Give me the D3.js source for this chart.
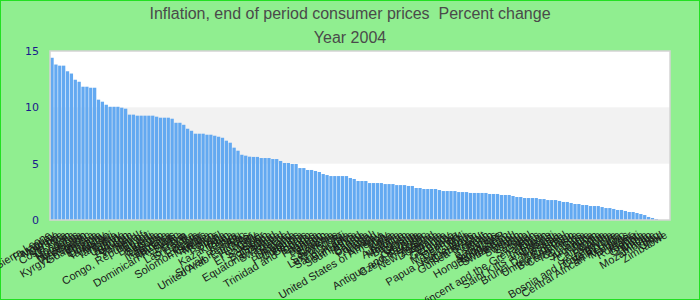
<!DOCTYPE html>
<html>
<head>
<meta charset="utf-8">
<script src="https://cdn.jsdelivr.net/npm/d3@7"></script>
<style>
  body { margin: 0; background: #fff; }
  svg { display: block; }
</style>
</head>
<body>
<div id="chart"></div>
<script>
const TITLE = 'Inflation, end of period consumer prices  Percent change';
const SUBTITLE = 'Year 2004';

const countries = [
  'Sierra Leone', 'Paraguay', 'Moldova', 'Ukraine', 'Costa Rica', 'Iran', 'Mongolia', 'Honduras',
  'Nicaragua', 'Azerbaijan', 'Kyrgyz Republic', 'Guatemala', 'Russia', 'Ethiopia', 'Uruguay', 'Tajikistan',
  'Malawi', 'Tanzania', 'Turkey', 'Uganda', 'Bhutan', 'Pakistan', 'Vanuatu', 'Nepal',
  'Congo, Republic of', 'Egypt', 'Burundi', 'Algeria', 'Georgia', 'Lesotho', 'Indonesia', 'Jamaica',
  'Mauritius', 'Dominican Republic', 'Serbia', 'Latvia', 'Lao P.D.R.', 'Sri Lanka', 'Belize', 'Ecuador',
  'Solomon Islands', 'Namibia', 'Mexico', 'Bolivia', 'Brazil', 'India', 'Kazakhstan', 'Tonga',
  'Kenya', 'Peru', 'Slovak Republic', 'United Arab Emirates', 'Qatar', 'Hungary', 'Chile', 'El Salvador',
  'Spain', 'Botswana', 'Thailand', 'Equatorial Guinea', 'Swaziland', 'Greece', 'Iceland', 'Lithuania',
  'Philippines', 'Colombia', 'Belarus', 'Trinidad and Tobago', 'Cyprus', 'Panama', 'Bahrain', 'Jordan',
  'Estonia', 'Slovenia', 'Seychelles', 'Luxembourg', 'Fiji', 'Saudi Arabia', 'Barbados', 'South Africa',
  'Poland', 'Samoa', 'Canada', 'Portugal', 'Ireland', 'Norway', 'United States of America', 'Italy',
  'Malta', 'Korea', 'Australia', 'Morocco', 'Belgium', 'Tunisia', 'Croatia', 'Grenada',
  'Antigua and Barbuda', 'Czech Republic', 'Austria', 'New Zealand', 'Dominica', 'Albania', 'France', 'Germany',
  'Guyana', 'Macedonia', 'Denmark', 'Mali', 'Papua New Guinea', 'Netherlands', 'Cameroon', 'Guinea-Bissau',
  'Kuwait', 'Oman', 'Benin', 'Bahamas', 'Singapore', 'Hong Kong SAR', 'Bangladesh', 'Switzerland',
  'Finland', 'Sweden', 'Taiwan', 'Togo', 'Senegal', 'Gabon', 'Saint Vincent and the Grenadines', 'Libya',
  'Lebanon', 'Saint Kitts and Nevis', 'Djibouti', 'Malaysia', 'Brunei Darussalam', 'Israel', 'United Kingdom', 'Burkina Faso',
  'Cape Verde', 'Comoros', 'Syria', 'Suriname', 'Argentina', 'Japan', 'Cambodia', 'China',
  'Rwanda', 'Bosnia and Herzegovina', "Cote d'Ivoire", 'Saint Lucia', 'Central African Republic', 'Maldives', 'Niger', 'Romania',
  'Kiribati', 'Gambia', 'Zambia', 'Macao', 'Mozambique', 'Iraq', 'Chad', 'Zimbabwe'
];

const inflation = [
  14.4, 13.8, 13.7, 13.7, 13.2, 13.0, 12.45, 12.27,
  11.83, 11.83, 11.74, 11.74, 10.68, 10.5, 10.23, 10.05,
  10.05, 10.05, 9.97, 9.88, 9.35, 9.35, 9.26, 9.26,
  9.26, 9.26, 9.26, 9.17, 9.08, 9.08, 9.08, 8.99,
  8.63, 8.63, 8.45, 8.1, 7.92, 7.66, 7.66, 7.66,
  7.57, 7.57, 7.48, 7.39, 7.3, 7.04, 6.86, 6.42,
  6.15, 5.79, 5.71, 5.62, 5.6, 5.6, 5.5, 5.5,
  5.5, 5.41, 5.41, 5.24, 5.06, 5.06, 4.97, 4.97,
  4.61, 4.61, 4.44, 4.44, 4.35, 4.26, 4.08, 3.99,
  3.9, 3.9, 3.9, 3.9, 3.9, 3.73, 3.64, 3.46,
  3.46, 3.46, 3.28, 3.28, 3.28, 3.28, 3.19, 3.19,
  3.19, 3.1, 3.1, 3.1, 3.02, 3.02, 2.84, 2.84,
  2.75, 2.75, 2.75, 2.75, 2.66, 2.57, 2.57, 2.57,
  2.57, 2.48, 2.48, 2.48, 2.4, 2.4, 2.4, 2.4,
  2.4, 2.31, 2.31, 2.31, 2.22, 2.22, 2.22, 2.13,
  2.04, 2.04, 1.95, 1.95, 1.95, 1.95, 1.86, 1.86,
  1.77, 1.77, 1.77, 1.69, 1.6, 1.6, 1.51, 1.42,
  1.42, 1.33, 1.33, 1.24, 1.24, 1.24, 1.15, 1.06,
  1.06, 0.98, 0.89, 0.89, 0.8, 0.71, 0.71, 0.62,
  0.53, 0.44, 0.27, 0.18, 0.09, -0.5, -1.8, -5.3
];

const yTicks = [0, 5, 10, 15];

const WIDTH = 700, HEIGHT = 300;
var margin = {top: 51, right: 30, bottom: 80, left: 50};
const PLOT_W = WIDTH - margin.left - margin.right,
  PLOT_H = HEIGHT - margin.top - margin.bottom;

const data = inflation.map((v, i) => ({name: countries[i], value: v}));

const svg = d3.select('#chart')
  .append('svg')
    .attr('width', WIDTH)
    .attr('height', HEIGHT)
    .style('font-family', '"Liberation Sans", Arial, sans-serif');

svg.append('rect')
  .attr('x', 0.5).attr('y', 0.5)
  .attr('width', WIDTH - 1).attr('height', HEIGHT - 1)
  .attr('fill', '#90ee90')
  .attr('stroke', '#22e022')
  .attr('stroke-width', 1);

svg.append('text')
  .attr('x', WIDTH / 2).attr('y', 19)
  .attr('text-anchor', 'middle')
  .attr('font-size', 16)
  .attr('fill', '#4a4a4a')
  .style('white-space', 'pre')
  .text(TITLE);

svg.append('text')
  .attr('x', WIDTH / 2).attr('y', 43)
  .attr('text-anchor', 'middle')
  .attr('font-size', 16)
  .attr('fill', '#4a4a4a')
  .text(SUBTITLE);

const x = d3.scaleBand()
  .domain(data.map(d => d.name))
  .range([0, PLOT_W])
  .paddingInner(0.15)
  .paddingOuter(0.1);

const y = d3.scaleLinear()
  .domain([0, 15])
  .range([PLOT_H, 0]);

const g = svg.append('g')
  .attr('transform', `translate(${margin.left}, ${margin.top})`);

// background bands
g.append('rect')
  .attr('x', 0).attr('y', 0)
  .attr('width', PLOT_W).attr('height', PLOT_H)
  .attr('fill', '#ffffff');

g.append('rect')
  .attr('x', 0).attr('y', y(10))
  .attr('width', PLOT_W).attr('height', y(5) - y(10))
  .attr('fill', '#f2f2f2');

g.selectAll('rect.bar')
  .data(data)
  .join('rect')
    .attr('class', 'bar')
    .attr('x', d => x(d.name))
    .attr('y', d => y(Math.max(0, d.value)))
    .attr('width', x.bandwidth())
    .attr('height', d => y(0) - y(Math.max(0, d.value)))
    .attr('fill', '#63a9f1');

g.append('rect')
  .attr('x', 0).attr('y', 0)
  .attr('width', PLOT_W).attr('height', PLOT_H)
  .attr('fill', 'none')
  .attr('stroke', '#d4d4d4')
  .attr('stroke-width', 1.5);

const yAxis = g.append('g')
  .call(d3.axisLeft(y).tickValues(yTicks).tickSize(0).tickPadding(11))
yAxis.select('.domain').remove();
yAxis.selectAll('text')
  .attr('font-size', 11)
  .attr('fill', '#1a1a8c')
  .style('font-family', '"DejaVu Sans", sans-serif');

g.selectAll('text.xlabel')
  .data(data)
  .join('text')
    .attr('class', 'xlabel')
    .attr('transform', d => `translate(${x(d.name) + x.bandwidth() / 2}, ${PLOT_H + 17}) rotate(-31)`)
    .attr('text-anchor', 'end')
    .attr('font-size', 11)
    .attr('fill', '#1a1a1a')
    .text(d => d.name);
</script>
</body>
</html>
